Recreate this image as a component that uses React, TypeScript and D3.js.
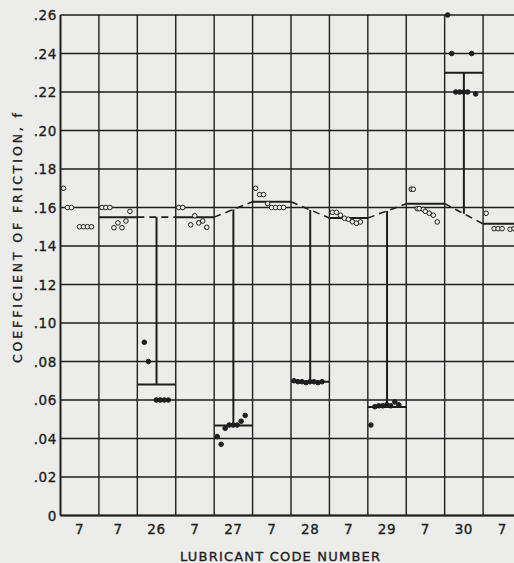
import React from 'react';
import * as d3 from 'd3';

const width = 514;
const height = 563;

// lubricant code per column (7 = reference lubricant)
const categories = ['7', '7', '26', '7', '27', '7', '28', '7', '29', '7', '30', '7'];
const testLubricant = [false, false, true, false, true, false, true, false, true, false, true, false];

// individual readings per column: [run number, coefficient of friction]
const readings: [number, number][][] = [
  [[0, 0.170], [1, 0.160], [2, 0.160], [4, 0.150], [5, 0.150], [6, 0.150], [7, 0.150]],
  [[0, 0.160], [1, 0.160], [2, 0.160], [3, 0.1495], [4, 0.152], [5, 0.1495], [6, 0.153], [7, 0.158]],
  [[1, 0.090], [2, 0.080], [4, 0.060], [5, 0.060], [6, 0.060], [7, 0.060]],
  [[0, 0.160], [1, 0.160], [3, 0.151], [4, 0.1557], [5, 0.152], [6, 0.153], [7, 0.1497]],
  [[0, 0.041], [1, 0.037], [2, 0.0453], [3, 0.047], [4, 0.047], [5, 0.047], [6, 0.049], [7, 0.052]],
  [[0, 0.170], [1, 0.1667], [2, 0.1667], [3, 0.162], [4, 0.160], [5, 0.160], [6, 0.160], [7, 0.160]],
  [[0, 0.070], [1, 0.0695], [2, 0.0695], [3, 0.069], [4, 0.0695], [5, 0.0695], [6, 0.069], [7, 0.0695]],
  [[0, 0.1575], [1, 0.1575], [2, 0.156], [3, 0.1544], [4, 0.1539], [5, 0.1526], [6, 0.1518], [7, 0.1525]],
  [[0, 0.047], [1, 0.0565], [2, 0.057], [3, 0.057], [4, 0.0575], [5, 0.057], [6, 0.059], [7, 0.0575]],
  [[0.5, 0.1695], [1, 0.1695], [2, 0.1594], [2.5, 0.1594], [3.5, 0.159], [4, 0.158], [5, 0.157], [6, 0.156], [7, 0.1525]],
  [[0, 0.260], [1, 0.240], [2, 0.220], [3, 0.220], [4, 0.220], [5, 0.220], [6, 0.240], [7, 0.219]],
  [[0, 0.157], [2, 0.149], [3, 0.149], [4, 0.149], [6, 0.1487], [7, 0.149]],
];

// average f for each column (first reference run has none drawn)
const means: (number | null)[] = [null, 0.155, 0.068, 0.155, 0.0467, 0.163, 0.0695, 0.1545, 0.0563, 0.162, 0.230, 0.1515];

const yTicks = [0, 0.02, 0.04, 0.06, 0.08, 0.1, 0.12, 0.14, 0.16, 0.18, 0.2, 0.22, 0.24, 0.26];

const ink = '#1e1e1e';
const paper = '#ececea';

export default function App() {
  const cols = d3.range(categories.length);
  const x = d3.scaleBand<number>().domain(cols).range([60.5, 521.5]).padding(0);
  const bw = x.bandwidth();
  const y = d3.scaleLinear().domain([0, 0.26]).range([515.5, 15]);
  const run = d3.scaleLinear().domain([0, 8]).range([3, 35]);
  const fmt = (v: number) => (v === 0 ? '0' : d3.format('.2f')(v).replace(/^0/, ''));

  const x0 = x(0)!;
  const boundaries = d3.range(categories.length + 1).map((i) => x0 + i * bw);

  // dashed reference baseline across each test column
  const baselines = cols
    .filter((i) => testLubricant[i])
    .map((i) => {
      const a = means[i - 1]!;
      const b = means[i + 1]!;
      return { i, a, b, mid: (a + b) / 2 };
    });

  const label = { fontFamily: 'DejaVu Sans', fill: ink, stroke: ink, strokeWidth: 0.35 };

  return (
    <svg width={width} height={height} style={{ position: 'absolute', left: 0, top: 0 }}>
      <rect width={width} height={height} fill={paper} />

      {/* grid */}
      {yTicks.map((t) => (
        <line key={'h' + t} x1={x0} x2={width} y1={y(t)} y2={y(t)} stroke={ink} strokeWidth={1.4} />
      ))}
      {boundaries.map((bx, i) => (
        <line key={'v' + i} x1={bx} x2={bx} y1={y(0.26)} y2={y(0)} stroke={ink} strokeWidth={i === 0 ? 2 : 1.4} />
      ))}
      <line x1={x0} x2={width} y1={y(0)} y2={y(0)} stroke={ink} strokeWidth={2} />

      {/* baseline of reference lubricant through test columns */}
      {baselines.map((d) => (
        <g key={'b' + d.i}>
          <line
            x1={x(d.i)!}
            x2={x(d.i)! + bw}
            y1={y(d.a)}
            y2={y(d.b)}
            stroke={ink}
            strokeWidth={1.6}
            strokeDasharray="7,5"
          />
          <line
            x1={x(d.i)! + bw / 2}
            x2={x(d.i)! + bw / 2}
            y1={y(d.mid)}
            y2={y(means[d.i]!)}
            stroke={ink}
            strokeWidth={2}
          />
        </g>
      ))}

      {/* column means */}
      {means.map((m, i) =>
        m === null ? null : (
          <line key={'m' + i} x1={x(i)!} x2={x(i)! + bw} y1={y(m)} y2={y(m)} stroke={ink} strokeWidth={2} />
        )
      )}

      {/* readings */}
      {readings.map((pts, i) =>
        pts.map(([r, f], j) => (
          <circle
            key={i + '-' + j}
            cx={x(i)! + run(r)}
            cy={y(f)}
            r={2.3}
            fill={testLubricant[i] ? ink : paper}
            stroke={ink}
            strokeWidth={1}
          />
        ))
      )}

      {/* y tick labels */}
      {yTicks.map((t) => (
        <text key={'yl' + t} x={57} y={y(t) + 5} textAnchor="end" fontSize={13.5} letterSpacing={0.6} {...label}>
          {fmt(t)}
        </text>
      ))}

      {/* x tick labels */}
      {categories.map((c, i) => (
        <text key={'xl' + i} x={x(i)! + bw / 2} y={534} textAnchor="middle" fontSize={13.5} letterSpacing={0.6} {...label}>
          {c}
        </text>
      ))}

      <text x={180} y={561} fontSize={13} textLength={200} lengthAdjust="spacing" {...label}>
        LUBRICANT CODE NUMBER
      </text>

      <text
        transform="translate(22,363) rotate(-90)"
        fontSize={12.5}
        textLength={250}
        lengthAdjust="spacing"
        {...label}
      >
        COEFFICIENT OF FRICTION, f
      </text>
    </svg>
  );
}
